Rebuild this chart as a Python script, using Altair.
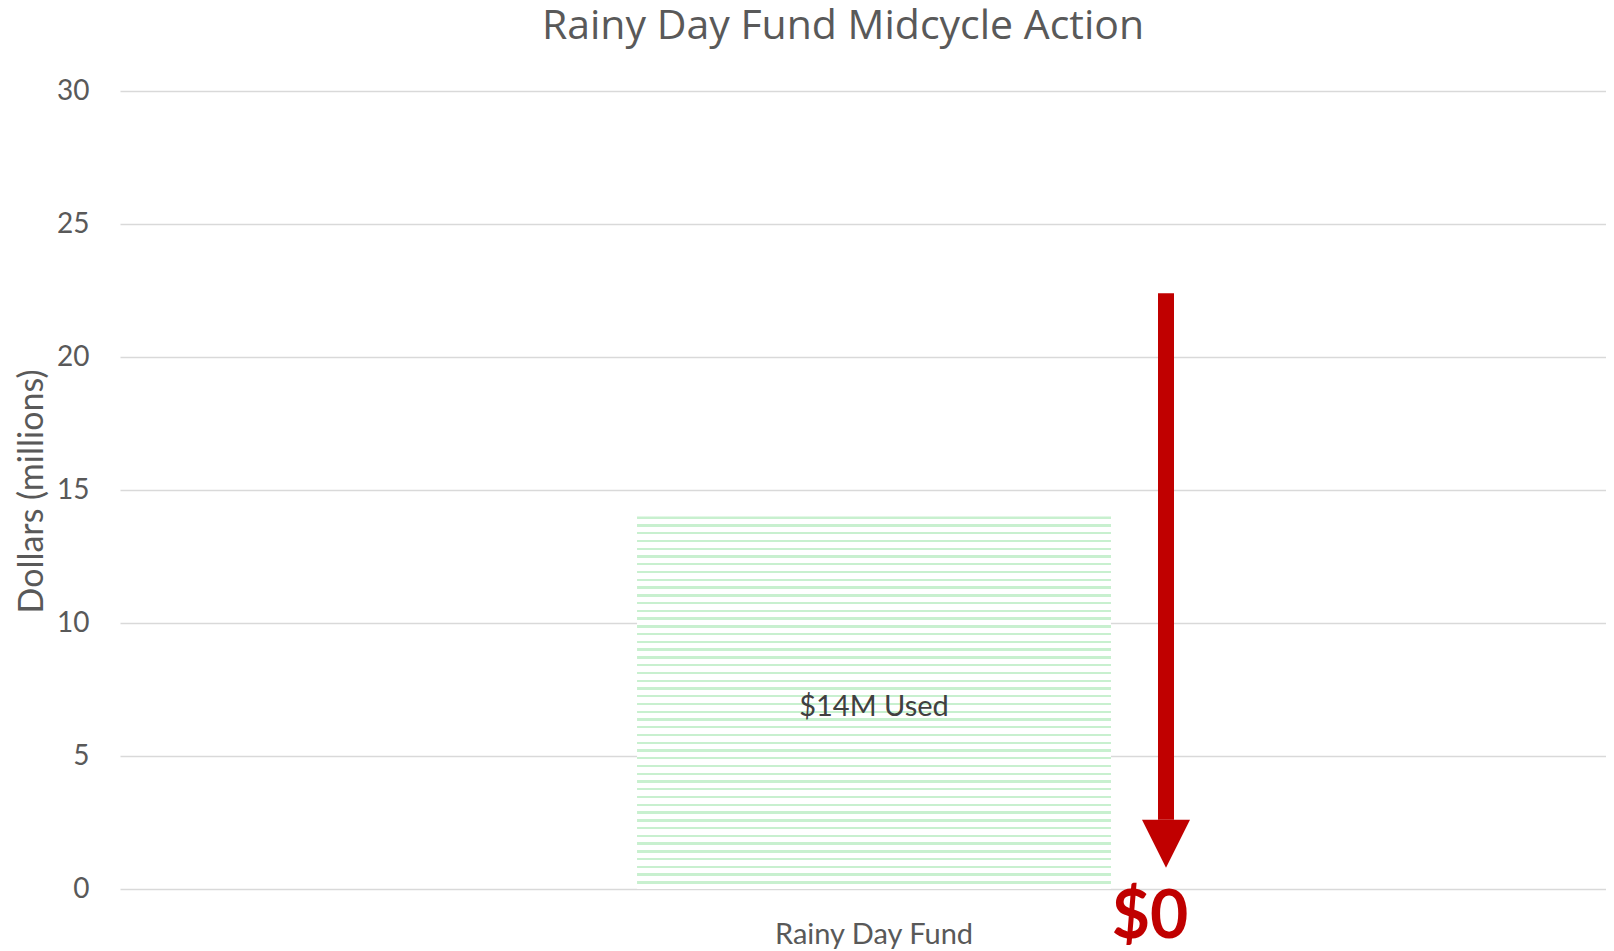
import altair as alt
import pandas as pd

# ---- data ----
categories = ["Rainy Day Fund"]
used_values = [14]
bar_labels = ["$14M Used"]
arrow_top = [22.4]
arrow_head_top = [2.6]
arrow_tip = [0.8]
remaining_label = ["$0"]
remaining_value = [0]
y_ticks = [0, 5, 10, 15, 20, 25, 30]

bars = pd.DataFrame({"cat": categories, "val": used_values, "label": bar_labels,
                     "mid": [v / 2 for v in used_values]})
arrow = pd.DataFrame({"cat": categories, "top": arrow_top, "headtop": arrow_head_top,
                      "tip": arrow_tip,
                      "headmid": [(a + b) / 2 for a, b in zip(arrow_head_top, arrow_tip)]})
rem = pd.DataFrame({"cat": categories, "label": remaining_label, "val": remaining_value})

FONT = "Lato"
GREY = "#595959"
RED = "#c00000"
GREEN = "#c8f0cf"

# stripe pattern gradient (approximation of the wavy texture)
n_stripes = 48
stops = []
for i in range(n_stripes):
    s = i / n_stripes
    e = (i + 0.3) / n_stripes
    stops += [alt.GradientStop(offset=s, color=GREEN), alt.GradientStop(offset=e, color=GREEN),
              alt.GradientStop(offset=e, color="#ffffff"),
              alt.GradientStop(offset=(i + 1) / n_stripes, color="#ffffff")]
pattern = alt.LinearGradient(gradient="linear", stops=stops, x1=0, x2=0, y1=0, y2=1)

xscale = alt.Scale(domain=categories, paddingInner=0, paddingOuter=0)
yscale = alt.Scale(domain=[0, 30], nice=False)

x_enc = alt.X("cat:N", scale=xscale, title=None,
              axis=alt.Axis(labelAngle=0, labelFontSize=29, labelColor=GREY, labelFont=FONT,
                            domain=False, ticks=False, labelPadding=31, labelBaseline="top",
                            labelLimit=0))
y_axis = alt.Axis(values=y_ticks, grid=True, gridColor="#d9d9d9", gridWidth=1.5,
                  domain=False, ticks=False, labelPadding=31, labelFontSize=28,
                  labelColor=GREY, labelFont=FONT, title="Dollars (millions)",
                  titleFontSize=34, titleColor=GREY, titleFont=FONT, titleFontWeight="normal",
                  titleX=-88, titleY=400, titleAngle=-90, titleBaseline="middle",
                  titleAlign="center")

bar = alt.Chart(bars).mark_bar(width=alt.RelativeBandSize(0.3143), fill=pattern).encode(
    x=x_enc,
    y=alt.Y("val:Q", scale=yscale, axis=y_axis),
)

bar_text = alt.Chart(bars).mark_text(fontSize=29, font=FONT, color="#404040",
                                     baseline="middle", dy=4).encode(
    x=alt.X("cat:N", scale=xscale),
    y=alt.Y("mid:Q", scale=yscale),
    text="label:N",
)

shaft = alt.Chart(arrow).mark_rule(color=RED, strokeWidth=16, strokeCap="butt",
                                   xOffset=292).encode(
    x=alt.X("cat:N", scale=xscale),
    y=alt.Y("top:Q", scale=yscale),
    y2="headtop:Q",
)

head = alt.Chart(arrow).mark_point(shape="M-1,-1L1,-1L0,1Z", size=2304, filled=True,
                                   fill=RED, opacity=1, strokeWidth=0, xOffset=292).encode(
    x=alt.X("cat:N", scale=xscale),
    y=alt.Y("headmid:Q", scale=yscale),
)

zero_text = alt.Chart(rem).mark_text(fontSize=66, font=FONT, fontWeight="bold", color=RED,
                                     baseline="alphabetic", dx=276, dy=49).encode(
    x=alt.X("cat:N", scale=xscale),
    y=alt.Y("val:Q", scale=yscale),
    text="label:N",
)

chart = alt.layer(bar, bar_text, shaft, head, zero_text).properties(
    width=1508, height=798,
    autosize=alt.AutoSizeParams(type="none"),
    padding={"left": 112, "top": 83, "right": -22, "bottom": 62},
    title=alt.TitleParams("Rainy Day Fund Midcycle Action", fontSize=41, font="Open Sans",
                          color=GREY, fontWeight="normal", anchor="middle", frame="group",
                          baseline="bottom", offset=32, dx=-31, dy=44),
).configure_view(stroke=None)

chart.save("out.html", embed_options={"renderer": "svg", "actions": False})
